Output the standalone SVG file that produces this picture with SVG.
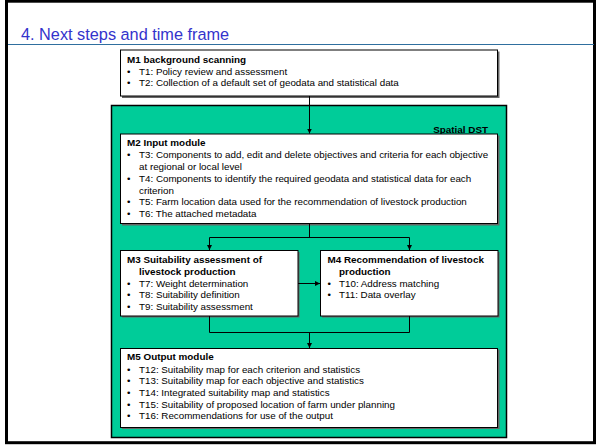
<svg xmlns="http://www.w3.org/2000/svg" width="596" height="445" viewBox="0 0 596 445">
  <defs>
    <marker id="arrow" viewBox="0 0 6 6" refX="6" refY="3" markerWidth="5" markerHeight="5" orient="auto" markerUnits="userSpaceOnUse">
      <path d="M0,0 L6,3 L0,6 Z" fill="#000"/>
    </marker>
  </defs>
  <style>
    text { font-family: "Liberation Sans", Arial, sans-serif; fill: #000; }
    .title { font-size: 16.3px; fill: #3333cc; }
    .h { font-size: 9.9px; font-weight: bold; }
    .t { font-size: 9.8px; }
    .box { fill: #fff; stroke: #000; stroke-width: 1; }
    .shadow { fill: #666; }
    .conn { fill: none; stroke: #000; stroke-width: 1; }
  </style>

  <!-- slide frame -->
  <rect x="0" y="0" width="596" height="445" fill="#fff"/>
  <rect x="6.5" y="1.2" width="588" height="441.5" fill="none" stroke="#000" stroke-width="3"/>
  <line x1="8" y1="44.5" x2="594" y2="44.5" stroke="#2f6f9f" stroke-width="1.2"/>
  <text class="title" x="21" y="40">4. Next steps and time frame</text>

  <!-- M1 -->
  <g id="m1">
    <rect class="shadow" x="122" y="51.5" width="377.5" height="46.5"/>
    <rect class="box" x="120.5" y="50" width="377" height="46"/>
    <text class="h" x="127" y="63.3">M1 background scanning</text>
    <text class="t" x="127" y="74.5">•</text><text class="t" x="139" y="74.5">T1: Policy review and assessment</text>
    <text class="t" x="127" y="86">•</text><text class="t" x="139" y="86">T2: Collection of a default set of geodata and statistical data</text>
  </g>

  <!-- Spatial DST container -->
  <g id="dst">
    <rect x="111.5" y="105.5" width="395" height="332" fill="#00cc99" stroke="#000" stroke-width="1.5"/>
    <text class="h" x="488" y="133.3" text-anchor="end">Spatial DST</text>
  </g>

  <!-- M2 -->
  <g id="m2">
    <rect class="shadow" x="122" y="135.5" width="377.5" height="90"/>
    <rect class="box" x="120.5" y="134" width="377" height="89.5"/>
    <text class="h" x="127" y="146">M2 Input module</text>
    <text class="t" x="127" y="158.3">•</text><text class="t" x="139" y="158.3">T3: Components to add, edit and delete objectives and criteria for each objective</text>
    <text class="t" x="139" y="170">at regional or local level</text>
    <text class="t" x="127" y="182.3">•</text><text class="t" x="139" y="182.3">T4: Components to identify the required geodata and statistical data for each</text>
    <text class="t" x="139" y="193.6">criterion</text>
    <text class="t" x="127" y="205.2">•</text><text class="t" x="139" y="205.2">T5: Farm location data used for the recommendation of livestock production</text>
    <text class="t" x="127" y="216.8">•</text><text class="t" x="139" y="216.8">T6: The attached metadata</text>
  </g>

  <!-- M3 -->
  <g id="m3">
    <rect class="shadow" x="122" y="252" width="177.5" height="65.5"/>
    <rect class="box" x="120.5" y="250.5" width="177.5" height="65.5"/>
    <text class="h" x="127" y="263.3">M3 Suitability assessment of</text>
    <text class="h" x="139" y="274.5">livestock production</text>
    <text class="t" x="127" y="286.7">•</text><text class="t" x="139" y="286.7">T7: Weight determination</text>
    <text class="t" x="127" y="298.3">•</text><text class="t" x="139" y="298.3">T8: Suitability definition</text>
    <text class="t" x="127" y="310">•</text><text class="t" x="139" y="310">T9: Suitability assessment</text>
  </g>

  <!-- M4 -->
  <g id="m4">
    <rect class="shadow" x="322" y="252" width="177.5" height="65.5"/>
    <rect class="box" x="320.5" y="250.5" width="177.5" height="65.5"/>
    <text class="h" x="327.5" y="263.3">M4 Recommendation of livestock</text>
    <text class="h" x="339" y="274.5">production</text>
    <text class="t" x="327.5" y="286.7">•</text><text class="t" x="339" y="286.7">T10: Address matching</text>
    <text class="t" x="327.5" y="298.3">•</text><text class="t" x="339" y="298.3">T11: Data overlay</text>
  </g>

  <!-- M5 -->
  <g id="m5">
    <rect class="shadow" x="122" y="349.5" width="377.5" height="79.5"/>
    <rect class="box" x="120.5" y="348.5" width="377" height="79"/>
    <text class="h" x="127" y="360">M5 Output module</text>
    <text class="t" x="127" y="372.7">•</text><text class="t" x="139" y="372.7">T12: Suitability map for each criterion and statistics</text>
    <text class="t" x="127" y="384.3">•</text><text class="t" x="139" y="384.3">T13: Suitability map for each objective and statistics</text>
    <text class="t" x="127" y="396">•</text><text class="t" x="139" y="396">T14: Integrated suitability map and statistics</text>
    <text class="t" x="127" y="407.7">•</text><text class="t" x="139" y="407.7">T15: Suitability of proposed location of farm under planning</text>
    <text class="t" x="127" y="419.3">•</text><text class="t" x="139" y="419.3">T16: Recommendations for use of the output</text>
  </g>

  <!-- connectors -->
  <g id="connectors">
    <path class="conn" d="M309.5,96 V133.5" marker-end="url(#arrow)"/>
    <path class="conn" d="M309.5,223.5 V237.5"/>
    <path class="conn" d="M209.5,237.5 H409.5"/>
    <path class="conn" d="M209.5,237.5 V250" marker-end="url(#arrow)"/>
    <path class="conn" d="M409.5,237.5 V250" marker-end="url(#arrow)"/>
    <path class="conn" d="M298,283.5 H320" marker-end="url(#arrow)"/>
    <path class="conn" d="M209.5,316 V332.5 H409.5 V316"/>
    <path class="conn" d="M309.5,332.5 V348" marker-end="url(#arrow)"/>
  </g>
</svg>
